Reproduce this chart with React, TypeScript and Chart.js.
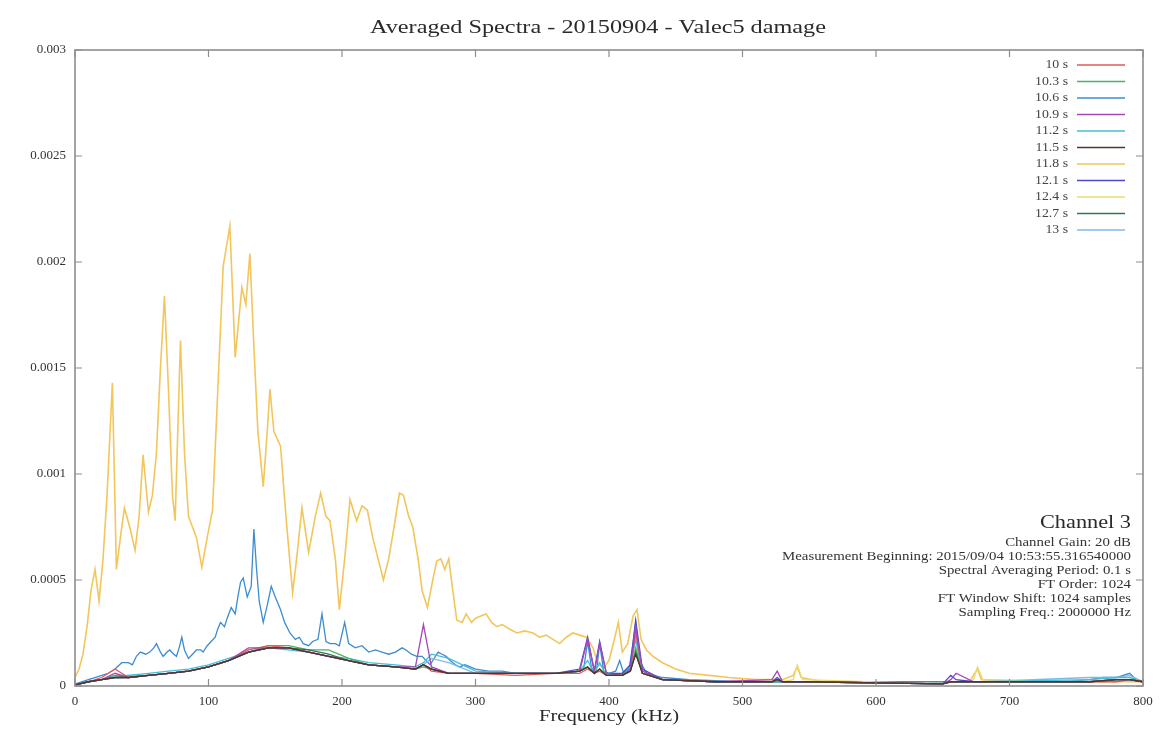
import React, { useEffect, useRef } from 'react';
import { Chart, registerables } from 'chart.js';

Chart.register(...registerables);

const SERIF = '"Liberation Serif", "DejaVu Serif", serif';

const chartTitle = 'Averaged Spectra - 20150904 - Valec5 damage';
const xAxisTitle = 'Frequency (kHz)';
const xTickLabels = ['0', '100', '200', '300', '400', '500', '600', '700', '800'];
const yTickLabels = ['0', '0.0005', '0.001', '0.0015', '0.002', '0.0025', '0.003'];

const seriesLabels = ['10 s', '10.3 s', '10.6 s', '10.9 s', '11.2 s', '11.5 s', '11.8 s', '12.1 s', '12.4 s', '12.7 s', '13 s'];
const seriesColors = ['#e05a5a', '#4fb06a', '#3d8cd0', '#a848b8', '#40c0d8', '#5a3030', '#f2c65a', '#4a48c8', '#e8dc70', '#2f7a48', '#80b8e8'];
const seriesOrder = [5, 5, 15, 4, 10, 1, 20, 4, 10, 3, 10];

const annotationHead = 'Channel 3';
const annotationLines = [
  'Channel Gain: 20 dB',
  'Measurement Beginning: 2015/09/04 10:53:55.316540000',
  'Spectral Averaging Period: 0.1 s',
  'FT Order: 1024',
  'FT Window Shift: 1024 samples',
  'Sampling Freq.: 2000000 Hz',
];

// 11.8 s : [kHz, amplitude]
const spectrum118: [number, number][] = [
  [0, 0.00004], [3, 0.00008], [6, 0.00015], [9, 0.00028], [12, 0.00045], [15, 0.00055], [18, 0.0004], [21, 0.0006], [24, 0.0009], [28, 0.00143],
  [31, 0.00055], [34, 0.0007], [37, 0.00084], [41, 0.00075], [45, 0.00064], [48, 0.0008], [51, 0.00109], [55, 0.00082], [58, 0.0009], [61, 0.0011],
  [64, 0.0015], [67, 0.00184], [70, 0.0014], [73, 0.0009], [75, 0.00078], [79, 0.00163], [82, 0.0011], [85, 0.0008], [88, 0.00075], [91, 0.0007],
  [95, 0.00056], [99, 0.0007], [103, 0.00083], [107, 0.0014], [111, 0.00198], [116, 0.00217], [120, 0.00155], [125, 0.00188], [128, 0.0018], [131, 0.00204],
  [134, 0.0016], [137, 0.0012], [141, 0.00094], [144, 0.0012], [146, 0.0014], [149, 0.0012], [154, 0.00113], [158, 0.0008], [163, 0.00044], [166, 0.0006],
  [170, 0.00084], [175, 0.00063], [180, 0.0008], [184, 0.00091], [188, 0.0008], [191, 0.00078], [195, 0.0006], [198, 0.00036], [202, 0.0006], [206, 0.00088],
  [211, 0.00078], [215, 0.00085], [219, 0.00083], [223, 0.0007], [227, 0.0006], [231, 0.0005], [235, 0.0006], [239, 0.00075], [243, 0.00091], [246, 0.0009],
  [250, 0.0008], [253, 0.00075], [257, 0.0006], [260, 0.00045], [264, 0.00037], [268, 0.0005], [271, 0.00059], [274, 0.0006], [277, 0.00055], [280, 0.0006],
  [283, 0.00045], [286, 0.00031], [290, 0.0003], [293, 0.00034], [297, 0.0003], [300, 0.00032], [304, 0.00033], [308, 0.00034], [312, 0.0003], [316, 0.00028],
  [320, 0.00029], [325, 0.00027], [331, 0.00025], [337, 0.00026], [343, 0.00025], [348, 0.00023], [353, 0.00024], [358, 0.00022], [363, 0.0002], [368, 0.00023],
  [373, 0.00025], [378, 0.00024], [383, 0.00023], [388, 0.00018], [392, 0.0001], [396, 0.00009], [400, 0.00012], [404, 0.00022], [407, 0.0003], [410, 0.00016],
  [414, 0.0002], [418, 0.00033], [421, 0.00036], [424, 0.00022], [428, 0.00017], [433, 0.00014], [440, 0.00011], [450, 0.00008], [460, 0.00006], [475, 0.00005],
  [490, 0.00004], [510, 0.00003], [530, 0.00003], [538, 0.00005], [541, 0.00009], [544, 0.00004], [560, 0.00002], [600, 0.00002], [640, 0.00002], [670, 0.00002],
  [673, 0.00005], [676, 0.00008], [679, 0.00003], [720, 0.00002], [760, 0.00002], [800, 0.00002],
];

// 10.6 s : [kHz, amplitude]
const spectrum106: [number, number][] = [
  [0, 0.00001], [5, 0.00002], [10, 0.00003], [15, 0.00004], [20, 0.00005], [25, 0.00006], [30, 0.00008], [35, 0.00011], [40, 0.00011], [43, 0.0001],
  [46, 0.00014], [49, 0.00016], [53, 0.00015], [56, 0.00016], [59, 0.00018], [61, 0.0002], [64, 0.00016], [66, 0.00014], [69, 0.00016], [71, 0.00017],
  [74, 0.00015], [76, 0.00014], [78, 0.00018], [80, 0.00023], [82, 0.00017], [85, 0.00013], [88, 0.00015], [91, 0.00017], [94, 0.00017], [96, 0.00016],
  [99, 0.00019], [102, 0.00021], [105, 0.00023], [107, 0.00027], [109, 0.0003], [112, 0.00028], [114, 0.00032], [117, 0.00037], [120, 0.00034], [122, 0.00042],
  [124, 0.00049], [126, 0.00051], [129, 0.00042], [132, 0.00047], [134, 0.00074], [136, 0.00055], [138, 0.0004], [141, 0.0003], [144, 0.00038], [147, 0.00047],
  [150, 0.00042], [154, 0.00036], [157, 0.0003], [161, 0.00025], [165, 0.00022], [168, 0.00023], [171, 0.0002], [175, 0.00019], [178, 0.00021], [182, 0.00022],
  [185, 0.00034], [188, 0.00021], [191, 0.0002], [195, 0.0002], [198, 0.00019], [202, 0.0003], [205, 0.0002], [210, 0.00018], [215, 0.00019], [220, 0.00016],
  [225, 0.00017], [230, 0.00016], [235, 0.00015], [240, 0.00016], [245, 0.00018], [248, 0.00017], [252, 0.00015], [256, 0.00014], [260, 0.00014], [263, 0.00012],
  [266, 0.0001], [269, 0.00013], [272, 0.00016], [275, 0.00015], [278, 0.00014], [281, 0.00012], [285, 0.0001], [288, 0.00009], [292, 0.0001], [296, 0.00009],
  [300, 0.00008], [310, 0.00007], [320, 0.00007], [330, 0.00006], [340, 0.00006], [350, 0.00006], [360, 0.00006], [370, 0.00006], [378, 0.00007], [381, 0.00008],
  [384, 0.00021], [387, 0.00008], [391, 0.00009], [393, 0.0002], [396, 0.00007], [400, 0.00006], [405, 0.00007], [408, 0.00012], [411, 0.00006], [415, 0.00008],
  [418, 0.0002], [420, 0.0003], [423, 0.00012], [428, 0.00006], [440, 0.00004], [460, 0.00003], [500, 0.00002], [560, 0.00002], [620, 0.00002], [680, 0.00002],
  [740, 0.00002], [760, 0.00003], [770, 0.00004], [780, 0.00004], [790, 0.00006], [795, 0.00003], [800, 0.00002],
];

// shared frequency grid (kHz) for the low-level spectra
const baseFreq = [
  0, 10, 20, 30, 40, 55, 70, 85, 100, 115,
  130, 145, 160, 175, 190, 205, 220, 240, 255, 261,
  267, 280, 300, 330, 360, 378, 384, 389, 393, 398,
  410, 416, 420, 425, 440, 480, 522, 526, 530, 538,
  541, 545, 650, 656, 660, 673, 676, 680, 760, 780,
  790, 800,
];

const values10 = [
  0.000005, 0.00002, 0.00004, 0.00008, 0.00004, 0.00005, 0.00006, 0.00007, 0.00009, 0.00012,
  0.00017, 0.00019, 0.00018, 0.00016, 0.00014, 0.00012, 0.0001, 0.00009, 0.00008, 0.0001,
  0.00007, 0.00006, 0.00006, 0.00005, 0.00006, 0.00006, 0.00008, 0.00006, 0.00007, 0.00005,
  0.00005, 0.00008, 0.00025, 0.00007, 0.00003, 0.00002, 0.00002, 0.00003, 0.00002, 0.00002,
  0.00002, 0.00002, 0.00001, 0.00002, 0.00002, 0.00002, 0.00002, 0.00002, 0.00002, 0.00002,
  0.00003, 0.00002,
];
const values103 = [
  0.000005, 0.00002, 0.00003, 0.00005, 0.00004, 0.00005, 0.00006, 0.00007, 0.00009, 0.00012,
  0.00016, 0.00019, 0.00019, 0.00017, 0.00017, 0.00013, 0.0001, 0.00009, 0.00008, 0.00009,
  0.00008, 0.00006, 0.00006, 0.00006, 0.00006, 0.00007, 0.00009, 0.00006, 0.00008, 0.00005,
  0.00005, 0.00007, 0.00018, 0.00006, 0.00003, 0.00002, 0.00002, 0.00002, 0.00002, 0.00002,
  0.00002, 0.00002, 0.00001, 0.00002, 0.00002, 0.00002, 0.00002, 0.00002, 0.00002, 0.00003,
  0.00003, 0.00002,
];
const values109 = [
  0.000005, 0.00002, 0.00003, 0.00006, 0.00004, 0.00005, 0.00006, 0.00007, 0.00009, 0.00012,
  0.00018, 0.00018, 0.00018, 0.00016, 0.00014, 0.00012, 0.0001, 0.00009, 0.00009, 0.00029,
  0.00009, 0.00006, 0.00006, 0.00006, 0.00006, 0.00007, 0.00022, 0.00007, 0.0002, 0.00006,
  0.00005, 0.00008, 0.00028, 0.00007, 0.00003, 0.00002, 0.00003, 0.00007, 0.00002, 0.00002,
  0.00002, 0.00002, 0.00001, 0.00003, 0.00006, 0.00002, 0.00002, 0.00002, 0.00002, 0.00003,
  0.00003, 0.00002,
];
const values112 = [
  0.000005, 0.00002, 0.00003, 0.00005, 0.00005, 0.00006, 0.00007, 0.00008, 0.0001, 0.00013,
  0.00016, 0.00018, 0.00017, 0.00016, 0.00014, 0.00013, 0.00011, 0.0001, 0.00009, 0.00011,
  0.00015, 0.00013, 0.00007, 0.00006, 0.00006, 0.00007, 0.00012, 0.00006, 0.00011, 0.00005,
  0.00006, 0.00009, 0.00022, 0.00006, 0.00003, 0.00002, 0.00002, 0.00002, 0.00002, 0.00002,
  0.00002, 0.00002, 0.00001, 0.00002, 0.00002, 0.00002, 0.00002, 0.00002, 0.00003, 0.00004,
  0.00004, 0.00002,
];
const values115 = [
  0.000005, 0.00002, 0.00003, 0.00004, 0.00004, 0.00005, 0.00006, 0.00007, 0.00009, 0.00012,
  0.00016, 0.00018, 0.00018, 0.00016, 0.00014, 0.00012, 0.0001, 0.00009, 0.00008, 0.0001,
  0.00008, 0.00006, 0.00006, 0.00006, 0.00006, 0.00007, 0.00009, 0.00006, 0.00008, 0.00005,
  0.00005, 0.00007, 0.00015, 0.00006, 0.00003, 0.00002, 0.00002, 0.00003, 0.00002, 0.00002,
  0.00002, 0.00002, 0.00001, 0.00002, 0.00002, 0.00002, 0.00002, 0.00002, 0.00002, 0.00003,
  0.00003, 0.00002,
];
const values121 = [
  0.000005, 0.00002, 0.00003, 0.00004, 0.00004, 0.00005, 0.00006, 0.00007, 0.00009, 0.00012,
  0.00016, 0.00018, 0.00018, 0.00016, 0.00014, 0.00012, 0.0001, 0.00009, 0.00008, 0.0001,
  0.00008, 0.00006, 0.00006, 0.00006, 0.00006, 0.00008, 0.00023, 0.00007, 0.00021, 0.00006,
  0.00006, 0.0001, 0.00031, 0.00008, 0.00003, 0.00002, 0.00002, 0.00004, 0.00002, 0.00002,
  0.00002, 0.00002, 0.00001, 0.00005, 0.00003, 0.00002, 0.00002, 0.00002, 0.00002, 0.00003,
  0.00003, 0.00002,
];
const values124 = [
  0.000005, 0.00002, 0.00003, 0.00004, 0.00004, 0.00005, 0.00006, 0.00007, 0.00009, 0.00012,
  0.00016, 0.00018, 0.00018, 0.00016, 0.00014, 0.00012, 0.0001, 0.00009, 0.00008, 0.0001,
  0.00008, 0.00006, 0.00006, 0.00006, 0.00006, 0.00007, 0.00009, 0.00006, 0.00008, 0.00005,
  0.00005, 0.00007, 0.00016, 0.00006, 0.00003, 0.00002, 0.00002, 0.00003, 0.00002, 0.00003,
  0.0001, 0.00003, 0.00001, 0.00002, 0.00002, 0.00003, 0.00009, 0.00003, 0.00002, 0.00003,
  0.00003, 0.00002,
];
const values127 = [
  0.000005, 0.00002, 0.00003, 0.00004, 0.00004, 0.00005, 0.00006, 0.00007, 0.00009, 0.00012,
  0.00016, 0.00018, 0.00018, 0.00017, 0.00015, 0.00012, 0.0001, 0.00009, 0.00008, 0.0001,
  0.00008, 0.00006, 0.00006, 0.00006, 0.00006, 0.00007, 0.00009, 0.00006, 0.00008, 0.00005,
  0.00005, 0.00007, 0.00016, 0.00006, 0.00003, 0.00002, 0.00002, 0.00003, 0.00002, 0.00002,
  0.00002, 0.00002, 0.00001, 0.00002, 0.00002, 0.00002, 0.00002, 0.00002, 0.00002, 0.00003,
  0.00003, 0.00002,
];
const values13 = [
  0.000005, 0.00002, 0.00003, 0.00004, 0.00005, 0.00005, 0.00006, 0.00007, 0.00009, 0.00012,
  0.00016, 0.00018, 0.00018, 0.00016, 0.00014, 0.00012, 0.0001, 0.00009, 0.00008, 0.0001,
  0.00013, 0.00011, 0.00006, 0.00006, 0.00006, 0.00007, 0.00009, 0.00006, 0.00008, 0.00005,
  0.00005, 0.00007, 0.00017, 0.00006, 0.00003, 0.00002, 0.00002, 0.00002, 0.00002, 0.00002,
  0.00002, 0.00002, 0.00001, 0.00002, 0.00002, 0.00002, 0.00002, 0.00002, 0.00004, 0.00004,
  0.00005, 0.00002,
];

const fromPairs = (pairs: [number, number][]) => pairs.map(([x, y]) => ({ x, y }));
const fromGrid = (vals: number[]) => vals.map((y, i) => ({ x: baseFreq[i], y }));

const seriesData = [
  fromGrid(values10),
  fromGrid(values103),
  fromPairs(spectrum106),
  fromGrid(values109),
  fromGrid(values112),
  fromGrid(values115),
  fromPairs(spectrum118),
  fromGrid(values121),
  fromGrid(values124),
  fromGrid(values127),
  fromGrid(values13),
];

function drawFit(
  ctx: CanvasRenderingContext2D,
  text: string,
  x: number,
  y: number,
  align: CanvasTextAlign,
  size: number,
  sx: number | null,
  target: number | null,
  color: string
) {
  ctx.save();
  ctx.font = `${size}px ${SERIF}`;
  ctx.fillStyle = color;
  ctx.textBaseline = 'middle';
  ctx.textAlign = align;
  let scale = sx ?? 1;
  if (target) scale = target / ctx.measureText(text).width;
  ctx.translate(x, y);
  ctx.scale(scale, 1);
  ctx.fillText(text, 0, 0);
  ctx.restore();
}

const overlay = {
  id: 'gnuplotOverlay',
  afterDraw(chart: any) {
    const ctx: CanvasRenderingContext2D = chart.ctx;
    const { left, right, top, bottom } = chart.chartArea;
    const xs = chart.scales.x;
    const ys = chart.scales.y;

    // frame
    ctx.save();
    ctx.strokeStyle = '#8e8e8e';
    ctx.lineWidth = 1.6;
    ctx.strokeRect(left, top, right - left, bottom - top);
    ctx.lineWidth = 1.2;
    ctx.beginPath();
    xs.ticks.forEach((t: any) => {
      const px = xs.getPixelForValue(t.value);
      ctx.moveTo(px, bottom);
      ctx.lineTo(px, bottom - 7);
      ctx.moveTo(px, top);
      ctx.lineTo(px, top + 7);
    });
    ys.ticks.forEach((t: any) => {
      const py = ys.getPixelForValue(t.value);
      ctx.moveTo(left, py);
      ctx.lineTo(left + 7, py);
      ctx.moveTo(right, py);
      ctx.lineTo(right - 7, py);
    });
    ctx.stroke();
    ctx.restore();

    // title and axis title
    drawFit(ctx, chartTitle, 598, 28, 'center', 19, null, 456, '#2a2a2a');
    drawFit(ctx, xAxisTitle, (left + right) / 2, 717, 'center', 16, null, 140, '#2a2a2a');

    // legend
    seriesLabels.forEach((label, i) => {
      const y = 65 + i * 16.5;
      drawFit(ctx, label, 1068, y, 'right', 12, 1.15, null, '#444');
      ctx.save();
      ctx.strokeStyle = seriesColors[i];
      ctx.lineWidth = 1.3;
      ctx.beginPath();
      ctx.moveTo(1077, y);
      ctx.lineTo(1125, y);
      ctx.stroke();
      ctx.restore();
    });

    // annotation
    drawFit(ctx, annotationHead, 1131, 523, 'right', 19, null, 91, '#2a2a2a');
    ctx.save();
    ctx.font = `12px ${SERIF}`;
    const longest = Math.max(...annotationLines.map((l) => ctx.measureText(l).width));
    ctx.restore();
    const sx = 349 / longest;
    annotationLines.forEach((line, i) => {
      drawFit(ctx, line, 1131, 543 + i * 14, 'right', 12, sx, null, '#333');
    });
  },
};

export default function App() {
  const ref = useRef<HTMLCanvasElement>(null);

  useEffect(() => {
    if (!ref.current) return;
    const datasets = seriesLabels.map((label, i) => ({
      label,
      data: seriesData[i],
      borderColor: seriesColors[i],
      backgroundColor: seriesColors[i],
      borderWidth: i === 6 ? 1.6 : 1.3,
      pointRadius: 0,
      tension: 0,
      fill: false,
      order: seriesOrder[i],
    }));
    const tickFont = { family: SERIF, size: 13 };
    const chart = new Chart(ref.current, {
      type: 'line',
      data: { datasets },
      options: {
        responsive: false,
        animation: false,
        devicePixelRatio: 1,
        layout: { padding: { top: 50, right: 21, left: 0, bottom: 0 } },
        plugins: {
          legend: { display: false },
          title: { display: false },
          tooltip: { enabled: false },
        },
        elements: { point: { radius: 0 }, line: { tension: 0 } },
        scales: {
          x: {
            type: 'linear',
            min: 0,
            max: 800,
            grid: { display: false, drawTicks: false },
            border: { display: false },
            ticks: {
              stepSize: 100,
              autoSkip: false,
              maxRotation: 0,
              padding: 8,
              color: '#333',
              font: tickFont,
              callback: (_v: any, i: number) => xTickLabels[i],
            },
            afterFit: (s: any) => {
              s.height = 50;
            },
          },
          y: {
            type: 'linear',
            min: 0,
            max: 0.003,
            grid: { display: false, drawTicks: false },
            border: { display: false },
            ticks: {
              stepSize: 0.0005,
              autoSkip: false,
              padding: 9,
              color: '#333',
              font: tickFont,
              callback: (_v: any, i: number) => yTickLabels[i],
            },
            afterFit: (s: any) => {
              s.width = 75;
            },
          },
        },
      } as any,
      plugins: [overlay],
    });
    return () => chart.destroy();
  }, []);

  return (
    <div style={{ position: 'absolute', left: 0, top: 0, width: 1164, height: 736, background: '#fff' }}>
      <canvas ref={ref} width={1164} height={736} style={{ display: 'block', width: 1164, height: 736 }} />
    </div>
  );
}
